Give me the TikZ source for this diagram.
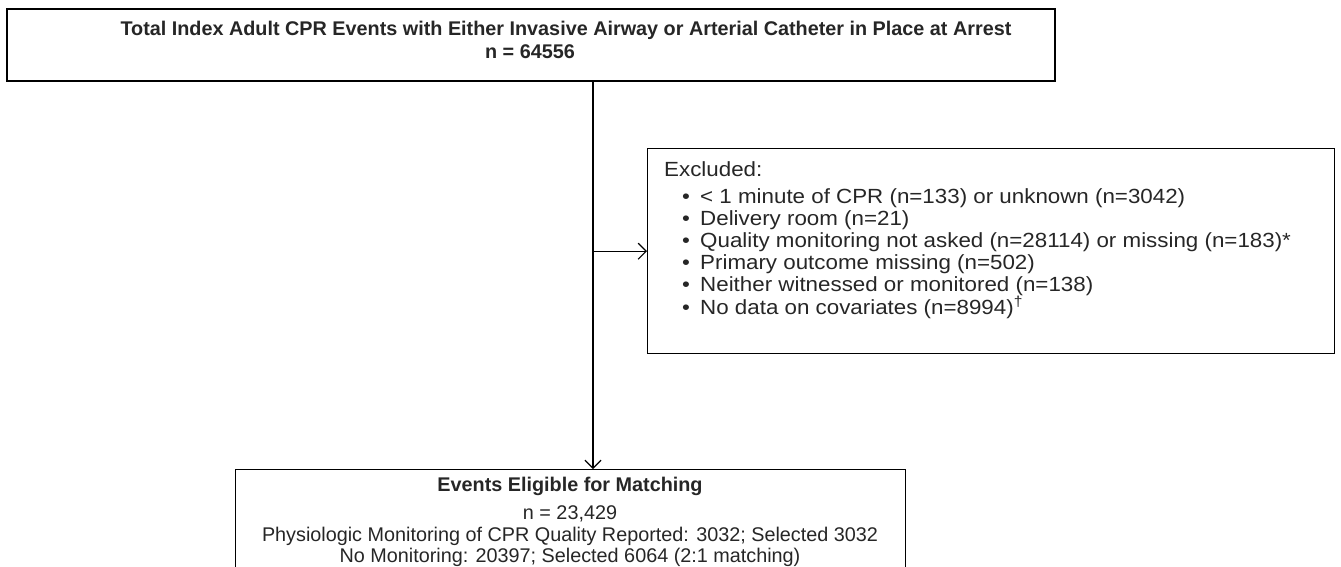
\documentclass[tikz,border=0pt]{standalone}
\usepackage{fontspec}
\setmainfont{Liberation Sans}
\newfontfamily\exfont{Liberation Sans}[FakeStretch=1.09]
\usetikzlibrary{arrows.meta}
\tikzset{
  box/.style={draw=black, line width=1.4pt, inner sep=0pt},
  txt/.style={inner sep=0pt, text=black!85},
  arr/.style={draw=black, line width=1.2pt, -{Straight Barb[length=8pt,width=16pt,line width=1.2pt]}},
}
\newcommand{\exbul}{\hspace*{18pt}\makebox[18pt][l]{•}}
\begin{document}
\begin{tikzpicture}[x=1pt,y=-1pt]
\useasboundingbox (0,0) rectangle (1341,566);
\clip (0,0) rectangle (1341,566);
% top box
\node[box, line width=1.8pt, minimum width=1048pt, minimum height=72pt, anchor=north west] (top) at (6,8) {};
\node[txt, font=\fontsize{19.8}{22}\selectfont\bfseries] (t1) at (566,30) {Total Index Adult CPR Events with Either Invasive Airway or Arterial Catheter in Place at Arrest};
\node[txt, font=\fontsize{19.8}{22}\selectfont\bfseries] (t2) at (530,52) {n = 64556};
% excluded box
\node[box, minimum width=687pt, minimum height=205pt, anchor=north west] (exc) at (647,148) {};
\node[txt, anchor=north west, align=left, font=\exfont\fontsize{20.5}{22}\selectfont] (exct) at (664,161) {Excluded:\\[5pt]
\exbul < 1 minute of CPR (n=133) or unknown (n=3042)\\
\exbul Delivery room (n=21)\\
\exbul Quality monitoring not asked (n=28114) or missing (n=183)*\\
\exbul Primary outcome missing (n=502)\\
\exbul Neither witnessed or monitored (n=138)\\
\exbul No data on covariates (n=8994)\textsuperscript{†}};
% bottom box
\node[box, minimum width=670pt, minimum height=140pt, anchor=north west] (bot) at (235,469) {};
\node[txt, font=\fontsize{19.8}{22}\selectfont\bfseries] (b1) at (570,486) {Events Eligible for Matching};
\node[txt, font=\fontsize{19.8}{22}\selectfont] (b2) at (570,514) {n = 23,429};
\node[txt, font=\fontsize{19.8}{22}\selectfont] (b3) at (570,536) {Physiologic Monitoring of CPR Quality Reported: 3032; Selected 3032};
\node[txt, font=\fontsize{19.8}{22}\selectfont] (b4) at (570,557.5) {No Monitoring: 20397; Selected 6064 (2:1 matching)};
% connectors
\coordinate (vx) at (593,0);
\draw[arr] (top.south -| vx) -- (bot.north -| vx);
\draw[arr] (exc.west -| vx) -- (exc.west);
\end{tikzpicture}
\end{document}
